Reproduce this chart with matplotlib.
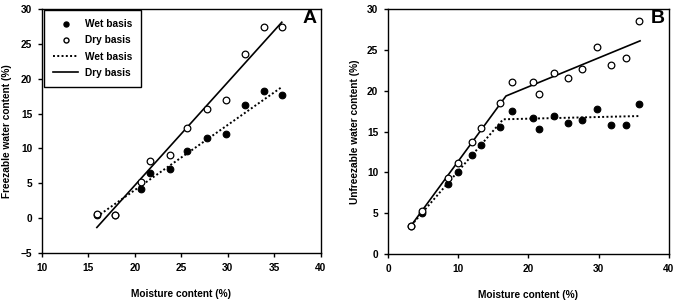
import matplotlib
matplotlib.use('Agg')
import matplotlib.pyplot as plt
from matplotlib.lines import Line2D

plt.rcParams['font.family'] = ['Liberation Sans', 'DejaVu Sans']
plt.rcParams['font.weight'] = 'bold'

# panel A: freezable water
a_moist = [15.9, 17.8, 20.7, 21.6, 23.8, 25.6, 27.7, 29.8, 31.8, 33.9, 35.8]
a_wet = [0.4, 0.4, 4.1, 6.4, 7.0, 9.6, 11.5, 12.1, 16.2, 18.3, 17.7]
a_dry = [0.6, 0.5, 5.2, 8.2, 9.0, 12.9, 15.6, 17.0, 23.5, 27.4, 27.4]
a_fit_x = [15.9, 35.8]
a_fit_wet = [0.2, 18.8]
a_fit_dry = [-1.35, 28.1]

# panel B: unfreezable water
b_moist = [3.3, 4.9, 8.5, 10.0, 12.0, 13.3, 15.9, 17.7, 20.6, 21.5, 23.7, 25.6,
           27.7, 29.8, 31.8, 33.9, 35.8]
b_wet = [3.5, 5.0, 8.6, 10.1, 12.1, 13.4, 15.6, 17.5, 16.7, 15.3, 16.9, 16.0,
         16.4, 17.8, 15.8, 15.8, 18.4]
b_dry = [3.5, 5.25, 9.35, 11.2, 13.75, 15.4, 18.45, 21.1, 21.1, 19.55, 22.2, 21.5,
         22.7, 25.4, 23.2, 23.95, 28.5]
b_fit_wet_x = [3.3, 16.4, 35.9]
b_fit_wet = [3.5, 16.5, 16.9]
b_fit_dry_x = [3.3, 16.8, 35.9]
b_fit_dry = [3.5, 19.35, 26.1]

MS = 4.8
FS = 7.3
fig = plt.figure(figsize=(6.8, 3.0), dpi=100)
axA = fig.add_axes([0.0618, 0.157, 0.410, 0.813])
axB = fig.add_axes([0.5706, 0.153, 0.413, 0.817])


def style_ax(ax):
    for sp in ax.spines.values():
        sp.set_linewidth(1.0)
        sp.set_color('black')
    ax.tick_params(direction='out', length=3, width=1, labelsize=FS, pad=4)
    for lab in ax.get_xticklabels() + ax.get_yticklabels():
        lab.set_fontweight('bold')


def draw(ax, x, wet, dry, fx_w, fy_w, fx_d, fy_d):
    ax.plot(fx_w, fy_w, color='black', lw=1.4, ls=(0, (1, 1.2)))
    ax.plot(fx_d, fy_d, color='black', lw=1.2, ls='-')
    ax.plot(x, wet, 'o', ms=MS, mfc='black', mec='black', mew=0.8, ls='none')
    ax.plot(x, dry, 'o', ms=MS, mfc='white', mec='black', mew=0.9, ls='none')


draw(axA, a_moist, a_wet, a_dry, a_fit_x, a_fit_wet, a_fit_x, a_fit_dry)
axA.set_xlim(10, 40)
axA.set_ylim(-5, 30)
axA.set_xticks(range(10, 41, 5))
axA.set_yticks(range(-5, 31, 5))
axA.set_xlabel('Moisture content (%)', fontsize=FS, fontweight='bold', labelpad=12)
axA.set_ylabel('Freezable water content (%)', fontsize=FS, fontweight='bold', labelpad=6)
axA.text(0.985, 0.995, 'A', transform=axA.transAxes, ha='right', va='top',
         fontsize=14, fontweight='bold')
style_ax(axA)

handles = [
    Line2D([], [], marker='o', ls='none', ms=3.6, mfc='black', mec='black'),
    Line2D([], [], marker='o', ls='none', ms=3.6, mfc='white', mec='black'),
    Line2D([], [], color='black', lw=1.4, ls=(0, (1, 1.2))),
    Line2D([], [], color='black', lw=1.2),
]
leg = axA.legend(handles, ['Wet basis', 'Dry basis', 'Wet basis', 'Dry basis'],
                 loc='upper left', bbox_to_anchor=(0.008, 0.995), fontsize=FS,
                 frameon=True, fancybox=False, edgecolor='black', framealpha=1,
                 handlelength=2.4, handletextpad=0.7, labelspacing=0.6,
                 borderpad=0.9, borderaxespad=0)
leg.get_frame().set_linewidth(1.0)
for t in leg.get_texts():
    t.set_fontweight('bold')

draw(axB, b_moist, b_wet, b_dry, b_fit_wet_x, b_fit_wet, b_fit_dry_x, b_fit_dry)
axB.set_xlim(0, 40)
axB.set_ylim(0, 30)
axB.set_xticks(range(0, 41, 10))
axB.set_yticks(range(0, 31, 5))
axB.set_xlabel('Moisture content (%)', fontsize=FS, fontweight='bold', labelpad=12)
axB.set_ylabel('Unfreezable water content (%)', fontsize=FS, fontweight='bold', labelpad=5)
axB.text(0.985, 0.995, 'B', transform=axB.transAxes, ha='right', va='top',
         fontsize=14, fontweight='bold')
style_ax(axB)

fig.savefig('out.png', dpi=100, facecolor='white')
